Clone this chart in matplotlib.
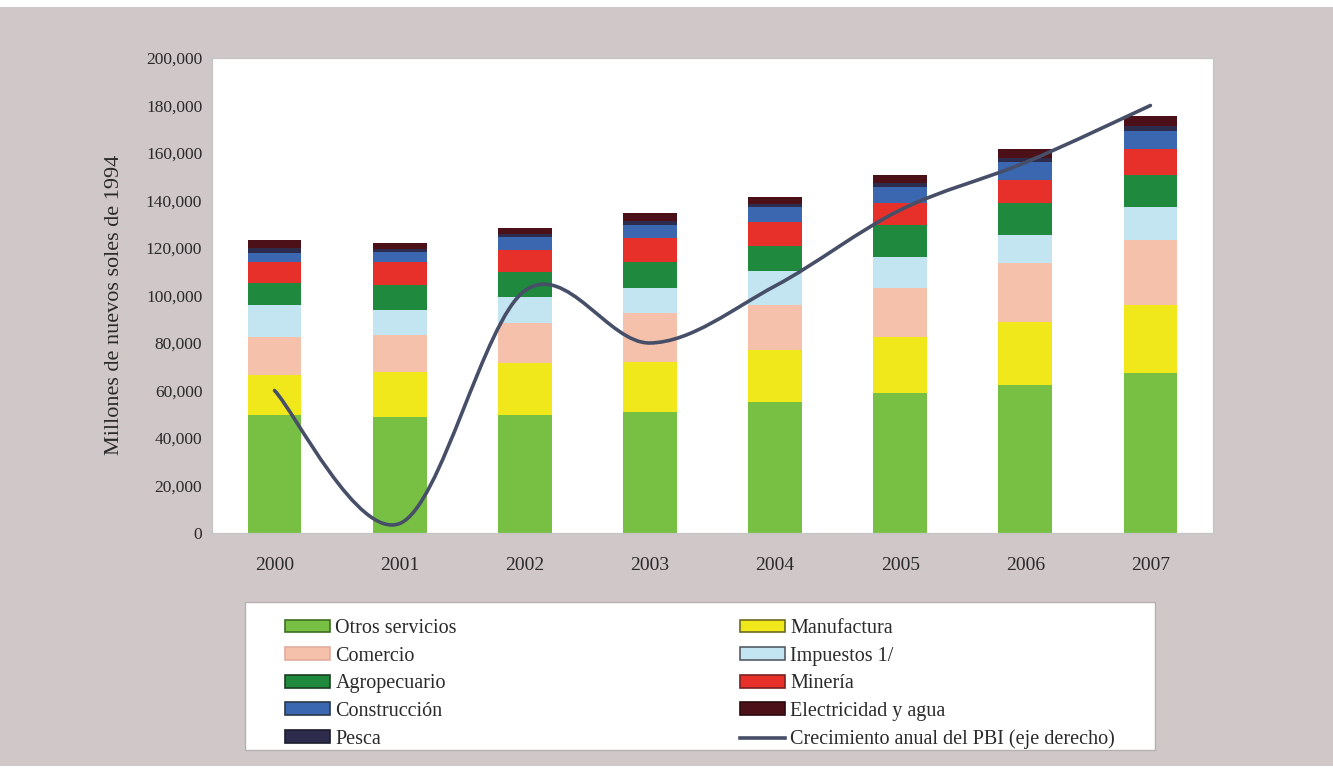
import matplotlib
matplotlib.use("Agg")
import matplotlib.pyplot as plt
import numpy as np
from matplotlib.patches import Rectangle, PathPatch, Patch
from matplotlib.path import Path
from matplotlib.lines import Line2D
from matplotlib.ticker import FuncFormatter, MultipleLocator

plt.rcParams['font.family'] = ['Liberation Serif', 'DejaVu Serif']

# PBI por sectores, millones de nuevos soles de 1994
years = ['2000', '2001', '2002', '2003', '2004', '2005', '2006', '2007']
otros_servicios = [49700, 48800, 49700, 50900, 55200, 58900, 62300, 67400]
manufactura = [16800, 18900, 21900, 21100, 21900, 23600, 26500, 28600]
comercio = [16000, 15600, 16800, 20600, 18900, 20600, 24800, 27400]
impuestos = [13500, 10500, 10900, 10500, 14300, 13100, 11800, 13900]
agropecuario = [9300, 10500, 10500, 10900, 10500, 13500, 13500, 13500]
mineria = [8800, 9700, 9300, 10100, 10100, 9300, 9700, 11000]
construccion = [3800, 4200, 5500, 5500, 6300, 6700, 7600, 7600]
pesca = [2100, 1500, 1300, 1700, 1300, 1700, 1700, 2100]
electricidad = [3400, 2300, 2500, 3400, 2900, 3400, 3800, 4200]

# Crecimiento anual del PBI (%), eje derecho
crecimiento_pbi = [3.0, 0.2, 5.1, 4.0, 5.2, 6.8, 7.8, 9.0]

sectors = [
    ('Otros servicios', otros_servicios, '#78c043', '#3f6e22'),
    ('Manufactura', manufactura, '#f1e81c', '#6e6a22'),
    ('Comercio', comercio, '#f6c1aa', '#e3ada0'),
    ('Impuestos 1/', impuestos, '#c3e4f1', '#555c66'),
    ('Agropecuario', agropecuario, '#1f8a3e', '#1d3d24'),
    ('Minería', mineria, '#e8302b', '#7a2020'),
    ('Construcción', construccion, '#3a67b0', '#2c3848'),
    ('Pesca', pesca, '#2d2c4c', '#1c1c2c'),
    ('Electricidad y agua', electricidad, '#4b1018', '#2a0a0e'),
]
line_color = '#474f68'

W, H = 1333, 773


def fx(px):
    return px / W


def fy(py):
    return 1 - py / H


fig = plt.figure(figsize=(W / 100, H / 100), dpi=100, facecolor='white')

# grey panel behind everything
fig.add_artist(Rectangle((0, fy(766)), 1, fy(7) - fy(766), transform=fig.transFigure,
                         facecolor='#cfc7c8', edgecolor='none', zorder=-2))

ax = fig.add_axes([fx(212), fy(533), fx(1213) - fx(212), fy(58) - fy(533)])
ax.set_facecolor('white')

x = np.arange(len(years))
bottom = np.zeros(len(years))
for label, vals, color, _ in sectors:
    ax.bar(x, vals, 0.43, bottom=bottom, color=color, edgecolor='none', label=label)
    bottom += np.asarray(vals, dtype=float)

ax.set_xlim(-0.5, len(years) - 0.5)
ax.set_ylim(0, 200000)
ax.yaxis.set_major_locator(MultipleLocator(20000))
ax.yaxis.set_major_formatter(FuncFormatter(lambda v, p: f'{v:,.0f}'))
ax.set_xticks(x, years)
ax.tick_params(axis='x', length=0, pad=17, labelsize=14, labelcolor='#2a2a2a')
ax.tick_params(axis='y', length=0, pad=7, labelsize=12.5, labelcolor='#2a2a2a')
ax.set_ylabel('Millones de nuevos soles de 1994', fontsize=16, color='#2a2a2a')
ax.yaxis.set_label_coords((124 - 212) / 1001, (533 - 305) / 475)
for s in ax.spines.values():
    s.set_color('#c6c6c6')
    s.set_linewidth(0.9)

# smoothed growth line on a hidden secondary axis (0-10 %)
ax2 = ax.twinx()
ax2.set_ylim(0, 10)
ax2.set_axis_off()
pts = np.column_stack([x, crecimiento_pbi]).astype(float)
P = np.vstack([pts[0], pts, pts[-1]])
verts = [pts[0]]
codes = [Path.MOVETO]
for i in range(len(pts) - 1):
    p0, p1, p2, p3 = P[i], P[i + 1], P[i + 2], P[i + 3]
    verts += [p1 + (p2 - p0) / 6, p2 - (p3 - p1) / 6, p2]
    codes += [Path.CURVE4] * 3
ax2.add_patch(PathPatch(Path(verts, codes), facecolor='none', edgecolor=line_color,
                        lw=2.6, capstyle='round', joinstyle='round'))

# legend box
fig.add_artist(Rectangle((fx(245), fy(750)), fx(1155) - fx(245), fy(602) - fy(750),
                         transform=fig.transFigure, facecolor='white',
                         edgecolor='#b7b0b0', lw=1.0, zorder=1))

patches = {label: Patch(facecolor=c, edgecolor=e, lw=1.2) for label, _, c, e in sectors}
line_handle = Line2D([], [], color=line_color, lw=2.6)
line_label = 'Crecimiento anual del PBI (eje derecho)'

left_labels = ['Otros servicios', 'Comercio', 'Agropecuario', 'Construcción', 'Pesca']
right_labels = ['Manufactura', 'Impuestos 1/', 'Minería', 'Electricidad y agua']

legend_kw = dict(loc='upper left', frameon=False, borderpad=0, borderaxespad=0,
                 handlelength=2.25, handleheight=0.6, handletextpad=0.25,
                 labelspacing=0.43, fontsize=14.5)
leg1 = fig.legend([patches[l] for l in left_labels], left_labels,
                  bbox_to_anchor=(fx(285), fy(619)), **legend_kw)
leg2 = fig.legend([patches[l] for l in right_labels] + [line_handle],
                  right_labels + [line_label],
                  bbox_to_anchor=(fx(740), fy(619)), **legend_kw)
for leg in (leg1, leg2):
    leg.set_zorder(3)
    for t in leg.get_texts():
        t.set_color('#2a2a2a')

fig.savefig('out.png', dpi=100, facecolor=fig.get_facecolor())
